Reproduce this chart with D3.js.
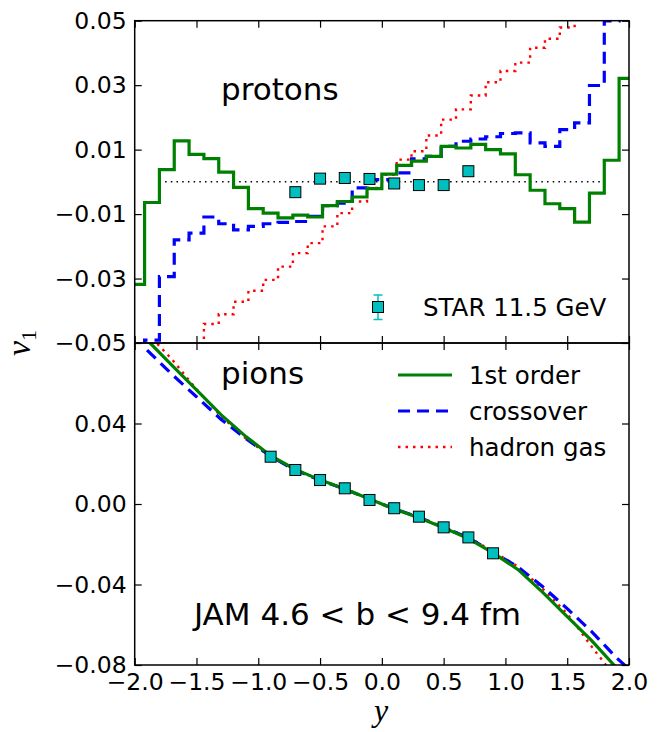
<!DOCTYPE html>
<html><head><meta charset="utf-8">
<script src="https://cdn.jsdelivr.net/npm/d3@7"></script>
<style>
body{margin:0;background:#fff}
</style>
</head><body>
<svg id="chart" width="666" height="732" font-family="DejaVu Sans"></svg>
<script>
// ---------------- DATA ----------------
const protonBinEdges = [-2.04,-1.92,-1.80,-1.68,-1.56,-1.44,-1.32,-1.20,-1.08,-0.96,-0.84,-0.72,-0.60,-0.48,-0.36,-0.24,-0.12,0.00,
  0.12,0.24,0.36,0.48,0.60,0.72,0.84,0.96,1.08,1.20,1.32,1.44,1.56,1.68,1.80,1.92,2.04];
const protonFirstOrder = [-0.0318,-0.0064,0.0038,0.0127,0.0085,0.0072,0.0030,-0.0017,-0.0083,-0.0097,-0.0112,-0.0103,-0.0109,-0.0074,-0.0061,-0.0047,-0.0021,
  0.0024,0.0051,0.0064,0.0079,0.0110,0.0105,0.0116,0.0100,0.0087,0.0022,-0.0026,-0.0068,-0.0083,-0.0125,-0.0035,0.0067,0.0321];
const protonCrossover = [-0.0650,-0.0491,-0.0294,-0.0180,-0.0159,-0.0109,-0.0130,-0.0149,-0.0138,-0.0130,-0.0126,-0.0123,-0.0107,-0.0074,-0.0066,-0.0019,0.0007,
  0.0007,0.0028,0.0071,0.0079,0.0110,0.0126,0.0133,0.0140,0.0150,0.0152,0.0121,0.0110,0.0162,0.0183,0.0299,0.0499,0.0600];
const protonHadronGas = [-0.0700,-0.0650,-0.0600,-0.0570,-0.0530,-0.0441,-0.0411,-0.0372,-0.0338,-0.0304,-0.0263,-0.0221,-0.0190,-0.0138,-0.0097,-0.0061,-0.0019,
  0.0022,0.0069,0.0095,0.0144,0.0193,0.0225,0.0268,0.0309,0.0344,0.0370,0.0416,0.0444,0.0479,0.0550,0.0600,0.0650,0.0700];
const protonStarY = [-0.7,-0.5,-0.3,-0.1,0.1,0.3,0.5,0.7];
const protonStarV1 = [-0.0032,0.0010,0.0012,0.0009,-0.0005,-0.0010,-0.0010,0.0033];
const zeroLineY = [-1.8, 1.8];

const pionY = [-1.9,-1.7,-1.5,-1.3,-1.1,-0.9,-0.7,-0.5,-0.3,-0.1,0.1,0.3,0.5,0.7,0.9,1.1,1.3,1.5,1.7,1.9,2.0];
const pionFirstOrder = [0.0815,0.0690,0.0567,0.0443,0.0335,0.0240,0.0172,0.0120,0.0075,0.0025,-0.0025,-0.0068,-0.0118,-0.0172,-0.0243,-0.0325,-0.0438,-0.0560,-0.0680,-0.0815,-0.0880];
const pionCrossover = [0.0765,0.0645,0.0533,0.0420,0.0325,0.0237,0.0168,0.0118,0.0074,0.0024,-0.0024,-0.0066,-0.0116,-0.0168,-0.0240,-0.0312,-0.0410,-0.0520,-0.0635,-0.0765,-0.0820];
const pionHadronGas = [0.0850,0.0720,0.0570,0.0435,0.0325,0.0235,0.0170,0.0120,0.0076,0.0025,-0.0025,-0.0066,-0.0115,-0.0165,-0.0235,-0.0310,-0.0420,-0.0545,-0.0710,-0.0870,-0.0950];
const pionStarY = [-0.9,-0.7,-0.5,-0.3,-0.1,0.1,0.3,0.5,0.7,0.9];
const pionStarV1 = [0.0235,0.0169,0.0119,0.0078,0.0020,-0.0021,-0.0063,-0.0116,-0.0166,-0.0245];

const xTicks = [-2.0,-1.5,-1.0,-0.5,0.0,0.5,1.0,1.5,2.0];
const topYTicks = [-0.05,-0.03,-0.01,0.01,0.03,0.05];
const bottomYTicks = [-0.08,-0.04,0.00,0.04];
const legendLabels = ["1st order","crossover","hadron gas"];

// ---------------- LAYOUT ----------------
const L = 134.7, R = 629, T = 20.7, MID = 343, B = 665;
const svg = d3.select("#chart");
const x = d3.scaleLinear().domain([-2, 2]).range([L, R]);
const yTop = d3.scaleLinear().domain([-0.05, 0.05]).range([MID, T]);
const yBot = d3.scaleLinear().domain([-0.08, 0.08]).range([B, MID]);

const GREEN = "#008000", BLUE = "#0000ff", RED = "#ff0000", CYAN = "#00bfbf";
const styles = [
  {color: GREEN, width: 3.2, dash: null},
  {color: BLUE, width: 3.2, dash: "12,7"},
  {color: RED, width: 2.4, dash: "2.5,5"}
];

const defs = svg.append("defs");
defs.append("clipPath").attr("id","clipTop").append("rect")
  .attr("x", L).attr("y", T).attr("width", R-L).attr("height", MID-T);
defs.append("clipPath").attr("id","clipBot").append("rect")
  .attr("x", L).attr("y", MID).attr("width", R-L).attr("height", B-MID);

// ---------------- TOP PANEL ----------------
const gTop = svg.append("g").attr("clip-path","url(#clipTop)");
gTop.append("line")
  .attr("x1", x(zeroLineY[0])).attr("x2", x(zeroLineY[1]))
  .attr("y1", yTop(0)).attr("y2", yTop(0))
  .attr("stroke","#000").attr("stroke-width",1.5).attr("stroke-dasharray","1.5,4.2");

const stepLine = d3.line().x(d=>x(d[0])).y(d=>yTop(d[1])).curve(d3.curveStepAfter);
function stepData(edges, vals){ return edges.map((e,i)=>[e, vals[Math.min(i, vals.length-1)]]); }
const protonSeries = [protonHadronGas, protonCrossover, protonFirstOrder];
const protonStyles = [styles[2], styles[1], styles[0]];
protonSeries.forEach((vals,k)=>{
  const s = protonStyles[k];
  gTop.append("path").attr("d", stepLine(stepData(protonBinEdges, vals)))
    .attr("fill","none").attr("stroke", s.color).attr("stroke-width", s.width)
    .attr("stroke-dasharray", s.dash).attr("stroke-linejoin","miter");
});
const MS = 11;
gTop.selectAll("rect.star").data(protonStarY).enter().append("rect")
  .attr("x", (d)=>x(d)-MS/2).attr("y",(d,i)=>yTop(protonStarV1[i])-MS/2)
  .attr("width", MS).attr("height", MS)
  .attr("fill", CYAN).attr("stroke","#000").attr("stroke-width",1);

// STAR legend
const lgx = 378, lgy = 307;
svg.append("line").attr("x1",lgx).attr("x2",lgx).attr("y1",295).attr("y2",319.5)
  .attr("stroke",CYAN).attr("stroke-width",1.5);
[295, 319.5].forEach(yy=>svg.append("line").attr("x1",lgx-4.5).attr("x2",lgx+4.5)
  .attr("y1",yy).attr("y2",yy).attr("stroke",CYAN).attr("stroke-width",1.5));
svg.append("rect").attr("x",lgx-MS/2).attr("y",lgy-MS/2).attr("width",MS).attr("height",MS)
  .attr("fill",CYAN).attr("stroke","#000").attr("stroke-width",1);
svg.append("text").attr("x",423).attr("y",315.5).attr("font-size",24.5).text("STAR 11.5 GeV");

svg.append("text").attr("x",221).attr("y",100).attr("font-size",31).text("protons");

// ---------------- BOTTOM PANEL ----------------
const gBot = svg.append("g").attr("clip-path","url(#clipBot)");
const curve = d3.line().x((d,i)=>x(pionY[i])).y(d=>yBot(d));
const pionSeries = [pionHadronGas, pionCrossover, pionFirstOrder];
pionSeries.forEach((vals,k)=>{
  const s = protonStyles[k];
  gBot.append("path").attr("d", curve(vals))
    .attr("fill","none").attr("stroke", s.color).attr("stroke-width", s.width)
    .attr("stroke-dasharray", s.dash);
});
gBot.selectAll("rect.star").data(pionStarY).enter().append("rect")
  .attr("x", (d)=>x(d)-MS/2).attr("y",(d,i)=>yBot(pionStarV1[i])-MS/2)
  .attr("width", MS).attr("height", MS)
  .attr("fill", CYAN).attr("stroke","#000").attr("stroke-width",1);

svg.append("text").attr("x",221).attr("y",384).attr("font-size",31).text("pions");
svg.append("text").attr("x",194).attr("y",625).attr("font-size",31).text("JAM 4.6 < b < 9.4 fm");

// legend
const legY = [375, 411, 447];
legendLabels.forEach((lab,i)=>{
  const s = styles[i];
  svg.append("line").attr("x1",398).attr("x2",452).attr("y1",legY[i]).attr("y2",legY[i])
    .attr("stroke",s.color).attr("stroke-width",s.width).attr("stroke-dasharray",s.dash);
  svg.append("text").attr("x",469).attr("y",legY[i]+8.5).attr("font-size",24.5).text(lab);
});

// ---------------- AXES ----------------
const fmt2 = d3.format(".2f"), fmt1 = d3.format(".1f");
function frame(y0,y1){
  svg.append("rect").attr("x",L).attr("y",y0).attr("width",R-L).attr("height",y1-y0)
    .attr("fill","none").attr("stroke","#000").attr("stroke-width",1.5);
}
function styleAxis(g){ g.select(".domain").remove(); g.selectAll("line").attr("stroke","#000").attr("stroke-width",1.2);
  g.selectAll("text").attr("font-size",23.5).attr("font-family","DejaVu Sans").attr("fill","#000"); }

// top panel
svg.append("g").attr("transform",`translate(${L},0)`).call(d3.axisLeft(yTop).tickValues(topYTicks).tickFormat(fmt2).tickSize(-7).tickPadding(8)).call(styleAxis);
svg.append("g").attr("transform",`translate(${R},0)`).call(d3.axisRight(yTop).tickValues(topYTicks).tickFormat("").tickSize(-7)).call(styleAxis);
svg.append("g").attr("transform",`translate(0,${T})`).call(d3.axisTop(x).tickValues(xTicks).tickFormat("").tickSize(-7)).call(styleAxis);
svg.append("g").attr("transform",`translate(0,${MID})`).call(d3.axisBottom(x).tickValues(xTicks).tickFormat("").tickSize(-7)).call(styleAxis);
// bottom panel
svg.append("g").attr("transform",`translate(${L},0)`).call(d3.axisLeft(yBot).tickValues(bottomYTicks).tickFormat(fmt2).tickSize(-7).tickPadding(8)).call(styleAxis);
svg.append("g").attr("transform",`translate(${R},0)`).call(d3.axisRight(yBot).tickValues(bottomYTicks).tickFormat("").tickSize(-7)).call(styleAxis);
svg.append("g").attr("transform",`translate(0,${MID})`).call(d3.axisTop(x).tickValues(xTicks).tickFormat("").tickSize(-7)).call(styleAxis);
svg.append("g").attr("transform",`translate(0,${B})`).call(d3.axisBottom(x).tickValues(xTicks).tickFormat(fmt1).tickSize(-7).tickPadding(8)).call(styleAxis);
frame(T, MID); frame(MID, B);

// axis titles
const yl = svg.append("text").attr("transform","translate(30,343) rotate(-90)")
  .attr("text-anchor","middle").attr("font-family","Liberation Serif").attr("font-size",34);
yl.append("tspan").attr("font-style","italic").text("v");
yl.append("tspan").attr("font-size",22).attr("dy",6).text("1");
svg.append("text").attr("x",381).attr("y",721).attr("text-anchor","middle")
  .attr("font-family","Liberation Serif").attr("font-style","italic").attr("font-size",32).text("y");
</script>
</body></html>
